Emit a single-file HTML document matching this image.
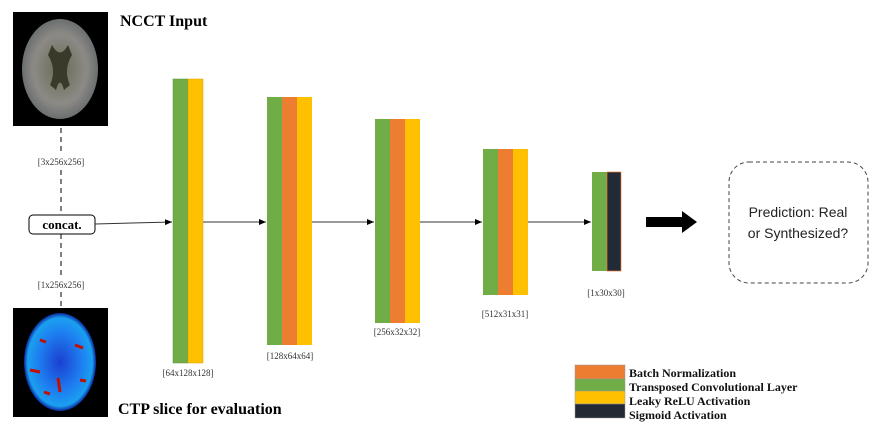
<!DOCTYPE html>
<html><head><meta charset="utf-8"><style>
body{margin:0;background:#fff;width:881px;height:433px;overflow:hidden}
svg{display:block}
.lbl{font-family:"Liberation Serif",serif;font-size:9px;fill:#333}
</style></head><body>
<svg width="881" height="433" viewBox="0 0 881 433">
<defs>
<marker id="ah" markerWidth="8" markerHeight="8" refX="7" refY="4" orient="auto"><path d="M0,1 L7,4 L0,7 z" fill="#000"/></marker>
<radialGradient id="g1" cx="50%" cy="50%" r="50%"><stop offset="0" stop-color="#6a6a52"/><stop offset="0.7" stop-color="#8c8a86"/><stop offset="1" stop-color="#6b6f70"/></radialGradient>
<radialGradient id="g2" cx="50%" cy="50%" r="50%"><stop offset="0" stop-color="#1b3fd0"/><stop offset="0.6" stop-color="#1e7ef0"/><stop offset="0.9" stop-color="#1aa0f0"/><stop offset="1" stop-color="#0a2aa0"/></radialGradient>
</defs>
<g>
<rect x="13" y="12" width="95" height="114" fill="#000"/>
<ellipse cx="60" cy="69" rx="38" ry="50" fill="url(#g1)"/>
<path d="M52,45 Q60,60 68,45 L72,55 Q63,70 70,85 L64,90 Q60,75 56,90 L50,85 Q57,70 48,55z" fill="#3a3a2a"/>
</g>
<g>
<rect x="13" y="308" width="95" height="109" fill="#000"/>
<ellipse cx="60" cy="362" rx="36" ry="49" fill="url(#g2)"/>
<path d="M40,340 l6,2 M75,345 l8,3 M30,370 l10,2 M58,378 l2,14 M80,380 l6,1 M44,392 l6,2" stroke="#c01000" stroke-width="3"/>
</g>
<text x="120" y="26" font-family="Liberation Serif, serif" font-size="16" font-weight="bold">NCCT Input</text>
<text x="118" y="414" font-family="Liberation Serif, serif" font-size="16" font-weight="bold">CTP slice for evaluation</text>
<g stroke="#000" stroke-dasharray="5,4" stroke-width="1">
<line x1="61" y1="128" x2="61" y2="153"/><line x1="61" y1="170" x2="61" y2="214"/>
<line x1="61" y1="234" x2="61" y2="276"/><line x1="61" y1="292" x2="61" y2="307"/>
</g>
<text x="61" y="165" class="lbl" text-anchor="middle">[3x256x256]</text>
<text x="61" y="288" class="lbl" text-anchor="middle">[1x256x256]</text>
<rect x="29" y="215" width="66" height="19" rx="4" fill="#fff" stroke="#000"/>
<text x="62" y="229" font-family="Liberation Serif, serif" font-size="13" font-weight="bold" text-anchor="middle">concat.</text>
<g stroke="#333" stroke-width="1" marker-end="url(#ah)">
<line x1="95" y1="224" x2="172" y2="222"/><line x1="203" y1="222" x2="266" y2="222"/>
<line x1="312" y1="222" x2="374" y2="222"/><line x1="420" y1="222" x2="482" y2="222"/>
<line x1="528" y1="222" x2="591" y2="222"/>
</g>
<g>
<rect x="173" y="79" width="15" height="284" fill="#70ad47" stroke="#5a8f38" stroke-width=".5"/>
<rect x="188" y="79" width="15" height="284" fill="#ffc000" stroke="#d9a000" stroke-width=".5"/>
</g>
<text x="188" y="376" class="lbl" text-anchor="middle">[64x128x128]</text>
<g>
<rect x="267" y="97" width="15" height="248" fill="#70ad47"/>
<rect x="282" y="97" width="15" height="248" fill="#ed7d31"/>
<rect x="297" y="97" width="15" height="248" fill="#ffc000"/>
</g>
<text x="290" y="359" class="lbl" text-anchor="middle">[128x64x64]</text>
<g>
<rect x="375" y="119" width="15" height="204" fill="#70ad47"/>
<rect x="390" y="119" width="15" height="204" fill="#ed7d31"/>
<rect x="405" y="119" width="15" height="204" fill="#ffc000"/>
</g>
<text x="397" y="335" class="lbl" text-anchor="middle">[256x32x32]</text>
<g>
<rect x="483" y="149" width="15" height="146" fill="#70ad47"/>
<rect x="498" y="149" width="15" height="146" fill="#ed7d31"/>
<rect x="513" y="149" width="15" height="146" fill="#ffc000"/>
</g>
<text x="505" y="317" class="lbl" text-anchor="middle">[512x31x31]</text>
<g>
<rect x="592" y="172" width="15" height="99" fill="#70ad47"/>
<rect x="607" y="172" width="14" height="99" fill="#222a35" stroke="#ed7d31" stroke-width=".7"/>
</g>
<text x="606" y="296" class="lbl" text-anchor="middle">[1x30x30]</text>
<path d="M646,217 L682,217 L682,211 L697,222 L682,233 L682,227 L646,227z" fill="#000"/>
<rect x="729" y="162" width="139" height="121" rx="20" fill="none" stroke="#444" stroke-dasharray="4,3"/>
<text x="798" y="217" font-family="Liberation Sans,sans-serif" font-size="14" fill="#222" text-anchor="middle">Prediction: Real</text>
<text x="798" y="238" font-family="Liberation Sans,sans-serif" font-size="14" fill="#222" text-anchor="middle">or Synthesized?</text>
<g>
<rect x="575" y="365" width="50" height="14" fill="#ed7d31" stroke="#999" stroke-width=".5"/>
<rect x="575" y="379" width="50" height="12" fill="#70ad47" stroke="#999" stroke-width=".5"/>
<rect x="575" y="391" width="50" height="13" fill="#ffc000" stroke="#999" stroke-width=".5"/>
<rect x="575" y="404" width="50" height="14" fill="#222a35" stroke="#999" stroke-width=".5"/>
<g font-family="Liberation Serif, serif" font-size="12" font-weight="bold" fill="#111">
<text x="629" y="377">Batch Normalization</text>
<text x="629" y="391">Transposed Convolutional Layer</text>
<text x="629" y="405">Leaky ReLU Activation</text>
<text x="629" y="419">Sigmoid Activation</text>
</g></g>
</svg>
</body></html>
